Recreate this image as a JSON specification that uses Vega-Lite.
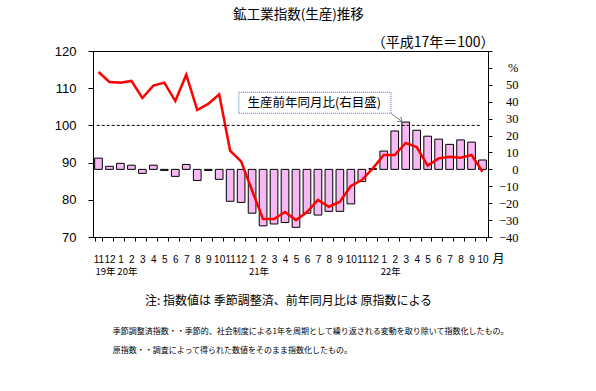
{
  "$schema": "https://vega.github.io/schema/vega-lite/v6.json",
  "width": 395,
  "height": 186,
  "autosize": {"type": "none"},
  "padding": {"left": 93, "top": 51, "right": 108, "bottom": 154},
  "background": "white",
  "title": {"text": "鉱工業指数(生産)推移", "font": "Noto Sans CJK JP", "fontSize": 13.5, "fontWeight": "normal", "color": "#000", "anchor": "middle", "frame": "group", "dx": 8, "offset": 14},
  "config": {
    "view": {"stroke": "#000", "strokeWidth": 1},
    "axis": {"grid": false, "domainColor": "#000", "tickColor": "#000", "labelColor": "#000", "titleColor": "#000", "titleFont": "Noto Sans CJK JP", "titleFontWeight": "normal"}
  },
  "data": {"values": [
    {"m": "2019-11", "v": 91.2, "r": 57.6},
    {"m": "2019-12", "v": 89.0, "r": 51.7},
    {"m": "2020-01", "v": 89.8, "r": 51.3},
    {"m": "2020-02", "v": 89.3, "r": 52.3},
    {"m": "2020-03", "v": 87.1, "r": 42.2},
    {"m": "2020-04", "v": 89.3, "r": 49.5},
    {"m": "2020-05", "v": 87.9, "r": 51.3},
    {"m": "2020-06", "v": 86.3, "r": 40.4},
    {"m": "2020-07", "v": 89.5, "r": 56.0},
    {"m": "2020-08", "v": 85.2, "r": 35.1},
    {"m": "2020-09", "v": 87.9, "r": 38.7},
    {"m": "2020-10", "v": 85.5, "r": 44.4},
    {"m": "2020-11", "v": 79.6, "r": 11.0},
    {"m": "2020-12", "v": 79.3, "r": 4.7},
    {"m": "2021-01", "v": 76.4, "r": -12.5},
    {"m": "2021-02", "v": 73.0, "r": -29.4},
    {"m": "2021-03", "v": 73.5, "r": -29.4},
    {"m": "2021-04", "v": 73.9, "r": -25.2},
    {"m": "2021-05", "v": 72.6, "r": -30.0},
    {"m": "2021-06", "v": 76.4, "r": -25.2},
    {"m": "2021-07", "v": 75.9, "r": -18.1},
    {"m": "2021-08", "v": 76.9, "r": -22.1},
    {"m": "2021-09", "v": 76.9, "r": -19.1},
    {"m": "2021-10", "v": 78.9, "r": -9.8},
    {"m": "2021-11", "v": 84.9, "r": -6.3},
    {"m": "2021-12", "v": 88.4, "r": 0.6},
    {"m": "2022-01", "v": 93.1, "r": 8.5},
    {"m": "2022-02", "v": 98.5, "r": 8.5},
    {"m": "2022-03", "v": 100.9, "r": 15.6},
    {"m": "2022-04", "v": 98.7, "r": 13.2},
    {"m": "2022-05", "v": 97.1, "r": 2.2},
    {"m": "2022-06", "v": 96.3, "r": 6.5},
    {"m": "2022-07", "v": 94.9, "r": 7.5},
    {"m": "2022-08", "v": 96.1, "r": 6.9},
    {"m": "2022-09", "v": 95.5, "r": 8.5},
    {"m": "2022-10", "v": 90.7, "r": -1.4}
  ]},
  "layer": [
    {
      "mark": {"type": "bar", "fill": "#f7b9f3", "stroke": "#000", "strokeWidth": 1},
      "encoding": {
        "x": {"field": "m", "type": "ordinal", "scale": {"paddingInner": 0.3, "paddingOuter": 0.15},
          "axis": {"title": "注: 指数値は 季節調整済、前年同月比は 原指数による", "titleFontSize": 12, "titleX": 195, "titleY": 67.5, "titleAlign": "center", "titleBaseline": "alphabetic", "titleAngle": 0,
            "tickBand": "extent", "tickSize": 4, "labelPadding": 13, "labelFont": "Liberation Sans", "labelFontSize": 10, "labelAngle": 0, "labelOverlap": false, "labelBound": false, "labelFlush": false, "labelExpr": "isString(datum.value) ? '' + parseInt(slice(datum.value, 5), 10) : ''"}},
        "y": {"field": "v", "type": "quantitative", "scale": {"domain": [70, 120], "nice": false, "zero": false},
          "axis": {"title": "月", "titleFontSize": 12, "titleX": 405, "titleY": 211, "titleAlign": "center", "titleBaseline": "alphabetic", "titleAngle": 0,
            "orient": "left", "values": [70, 80, 90, 100, 110, 120], "tickSize": 5, "labelPadding": 12, "labelFont": "Liberation Sans", "labelFontSize": 13, "labelFlush": false, "labelOverlap": false}},
        "y2": {"datum": 88.18}
      }
    },
    {
      "mark": {"type": "line", "color": "#ff0000", "strokeWidth": 2.5},
      "encoding": {
        "x": {"field": "m", "type": "ordinal"},
        "y": {"field": "r", "type": "quantitative", "scale": {"domain": [-40, 70], "nice": false, "zero": false},
          "axis": {"title": "（平成17年＝100）", "titleFontSize": 14, "titleX": 6, "titleY": -4.5, "titleAlign": "right", "titleBaseline": "alphabetic", "titleAngle": 0,
            "orient": "right", "values": [-40, -30, -20, -10, 0, 10, 20, 30, 40, 50, 60, 70], "tickSize": 4, "labelAlign": "right", "labelPadding": 26, "labelFont": "Liberation Serif", "labelFontSize": 12.5, "labelFlush": false, "labelOverlap": false, "labelExpr": "datum.value == 60 ? '%' : (datum.value > 50 ? '' : datum.label)"}}
      }
    },
    {
      "data": {"values": [{}]},
      "mark": {"type": "rule", "strokeDash": [3, 2], "color": "#000", "strokeWidth": 1},
      "encoding": {
        "x": {"datum": "2019-11", "type": "ordinal", "bandPosition": 0.27},
        "x2": {"datum": "2022-10", "bandPosition": 0.4},
        "y": {"datum": 100, "type": "quantitative", "scale": {"domain": [70, 120], "nice": false, "zero": false}, "axis": null}
      }
    },
    {
      "data": {"values": [{}]},
      "mark": {"type": "rect", "fill": "#fff", "stroke": "#4472c4", "strokeDash": [1, 1], "strokeWidth": 1},
      "encoding": {
        "x": {"datum": "2020-12", "type": "ordinal", "bandPosition": 0.2},
        "x2": {"datum": "2022-02", "bandPosition": 0.01},
        "y": {"datum": 108.9, "type": "quantitative", "scale": {"domain": [70, 120], "nice": false, "zero": false}, "axis": null},
        "y2": {"datum": 103.25}
      }
    },
    {
      "data": {"values": [{}]},
      "mark": {"type": "text", "text": "生産前年同月比(右目盛)", "font": "Noto Sans CJK JP", "fontSize": 12.5, "align": "center", "baseline": "middle", "color": "#000"},
      "encoding": {
        "x": {"datum": "2021-07", "type": "ordinal", "bandPosition": 0.02},
        "y": {"datum": 105.94, "type": "quantitative", "scale": {"domain": [70, 120], "nice": false, "zero": false}, "axis": null}
      }
    },
    {
      "data": {"values": [{}]},
      "mark": {"type": "rule", "color": "#808080", "strokeWidth": 1},
      "encoding": {
        "x": {"datum": "2022-02", "type": "ordinal", "bandPosition": 0.01},
        "x2": {"datum": "2022-03", "bandPosition": 0.01},
        "y": {"datum": 103.2, "type": "quantitative", "scale": {"domain": [70, 120], "nice": false, "zero": false}, "axis": null},
        "y2": {"datum": 101.0}
      }
    },
    {
      "data": {"values": [{}]},
      "mark": {"type": "point", "shape": "M -0.6 0.8 L 0 0 L 0.6 0.8", "filled": false, "stroke": "#808080", "strokeWidth": 1, "size": 100, "angle": 129, "opacity": 1},
      "encoding": {
        "x": {"datum": "2022-03", "type": "ordinal", "bandPosition": 0.01},
        "y": {"datum": 101.0, "type": "quantitative", "scale": {"domain": [70, 120], "nice": false, "zero": false}, "axis": null}
      }
    },
    {
      "data": {"values": [
        {"m": "2019-11", "t": "19年"},
        {"m": "2020-01", "t": "20年"},
        {"m": "2021-01", "t": "21年"},
        {"m": "2022-01", "t": "22年"}
      ]},
      "mark": {"type": "text", "font": "Noto Sans CJK JP", "fontSize": 9.5, "align": "left", "baseline": "alphabetic", "dy": 38, "color": "#000"},
      "encoding": {
        "x": {"field": "m", "type": "ordinal", "bandPosition": 0.1},
        "y": {"datum": 70, "type": "quantitative", "scale": {"domain": [70, 120], "nice": false, "zero": false}, "axis": null},
        "text": {"field": "t"}
      }
    },
    {
      "data": {"values": [{}]},
      "mark": {"type": "text", "text": "季節調整済指数・・季節的、社会制度による1年を周期として繰り返される変動を取り除いて指数化したもの。", "font": "Noto Sans CJK JP", "fontSize": 8, "align": "left", "baseline": "alphabetic", "dy": 97, "color": "#000"},
      "encoding": {
        "x": {"datum": "2019-12", "type": "ordinal", "bandPosition": 0.92},
        "y": {"datum": 70, "type": "quantitative", "scale": {"domain": [70, 120], "nice": false, "zero": false}, "axis": null}
      }
    },
    {
      "data": {"values": [{}]},
      "mark": {"type": "text", "text": "原指数・・調査によって得られた数値をそのまま指数化したもの。", "font": "Noto Sans CJK JP", "fontSize": 8, "align": "left", "baseline": "alphabetic", "dy": 115.5, "color": "#000"},
      "encoding": {
        "x": {"datum": "2019-12", "type": "ordinal", "bandPosition": 0.92},
        "y": {"datum": 70, "type": "quantitative", "scale": {"domain": [70, 120], "nice": false, "zero": false}, "axis": null}
      }
    }
  ],
  "resolve": {"scale": {"y": "independent"}}
}
